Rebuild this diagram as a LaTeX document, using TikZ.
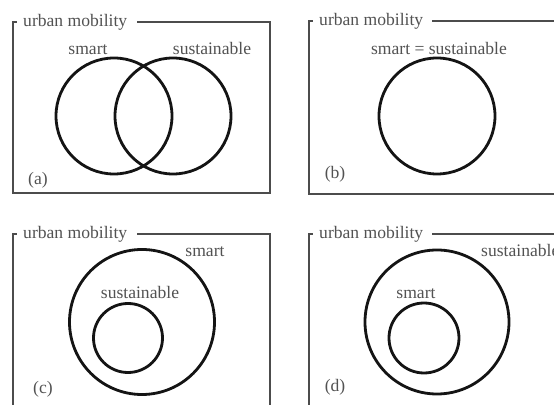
\documentclass[tikz,border=0pt]{standalone}
\usepackage{fontspec}
\setmainfont{Liberation Serif}

\begin{document}
\begin{tikzpicture}[x=0.03cm, y=-0.03cm, inner sep=0pt,
	every node/.style={font=\fontsize{15}{18}\selectfont, text=black!68},
	frame/.style={draw=black!70, line width=1.6pt},
	ring/.style={circle, draw=black!92, line width=2.4pt, minimum size=#1}]
	\useasboundingbox (0,0) rectangle (554,405);
	\clip (0,0) rectangle (554,405);
	% (a) overlapping sets
	\draw[frame] (137,22) -| (270,193) -| (13,22) -- (17,22);
	\node[anchor=base west] (titleA) at (23,26.5) {urban mobility};
	\node[ring=3.48cm] (smartA) at (114,116) {};
	\node[ring=3.48cm] (sustA) at (173,116) {};
	\node[anchor=base] (smartlabA) at (88,55) {smart};
	\node[anchor=base] (sustlabA) at (212,55) {sustainable};
	\node[anchor=base] (tagA) at (38,185) {(a)};
	% (b) identical sets
	\begin{scope}[shift={(296,0)}]
		\draw[frame] (136,21) -| (300,194) -| (13,21) -- (17,21);
		\node[anchor=base west] (titleB) at (23,25.5) {urban mobility};
		\node[ring=3.48cm] (sameB) at (141,116) {};
		\node[anchor=base] (samelabB) at (143,55) {smart = sustainable};
		\node[anchor=base] (tagB) at (39,179) {(b)};
	\end{scope}
	% (c) sustainable inside smart
	\begin{scope}[shift={(0,212)}]
		\draw[frame] (137,22) -| (270,220) -| (13,22) -- (17,22);
		\node[anchor=base west] (titleC) at (23,26.5) {urban mobility};
		\node[ring=4.35cm] (smartC) at (142,110) {};
		\node[ring=2.07cm] (sustC) at (128,126) {};
		\node[anchor=base] (smartlabC) at (205,45) {smart};
		\node[anchor=base] (sustlabC) at (140,87) {sustainable};
		\node[anchor=base] (tagC) at (43,182) {(c)};
	\end{scope}
	% (d) smart inside sustainable
	\begin{scope}[shift={(296,212)}]
		\draw[frame] (136,22) -| (300,220) -| (13,22) -- (17,22);
		\node[anchor=base west] (titleD) at (23,26.5) {urban mobility};
		\node[ring=4.32cm] (sustD) at (141,110) {};
		\node[ring=2.1cm] (smartD) at (128,126) {};
		\node[anchor=base west] (sustlabD) at (185,45) {sustainable};
		\node[anchor=base] (smartlabD) at (120,87) {smart};
		\node[anchor=base] (tagD) at (39,180) {(d)};
	\end{scope}
\end{tikzpicture}
\end{document}
